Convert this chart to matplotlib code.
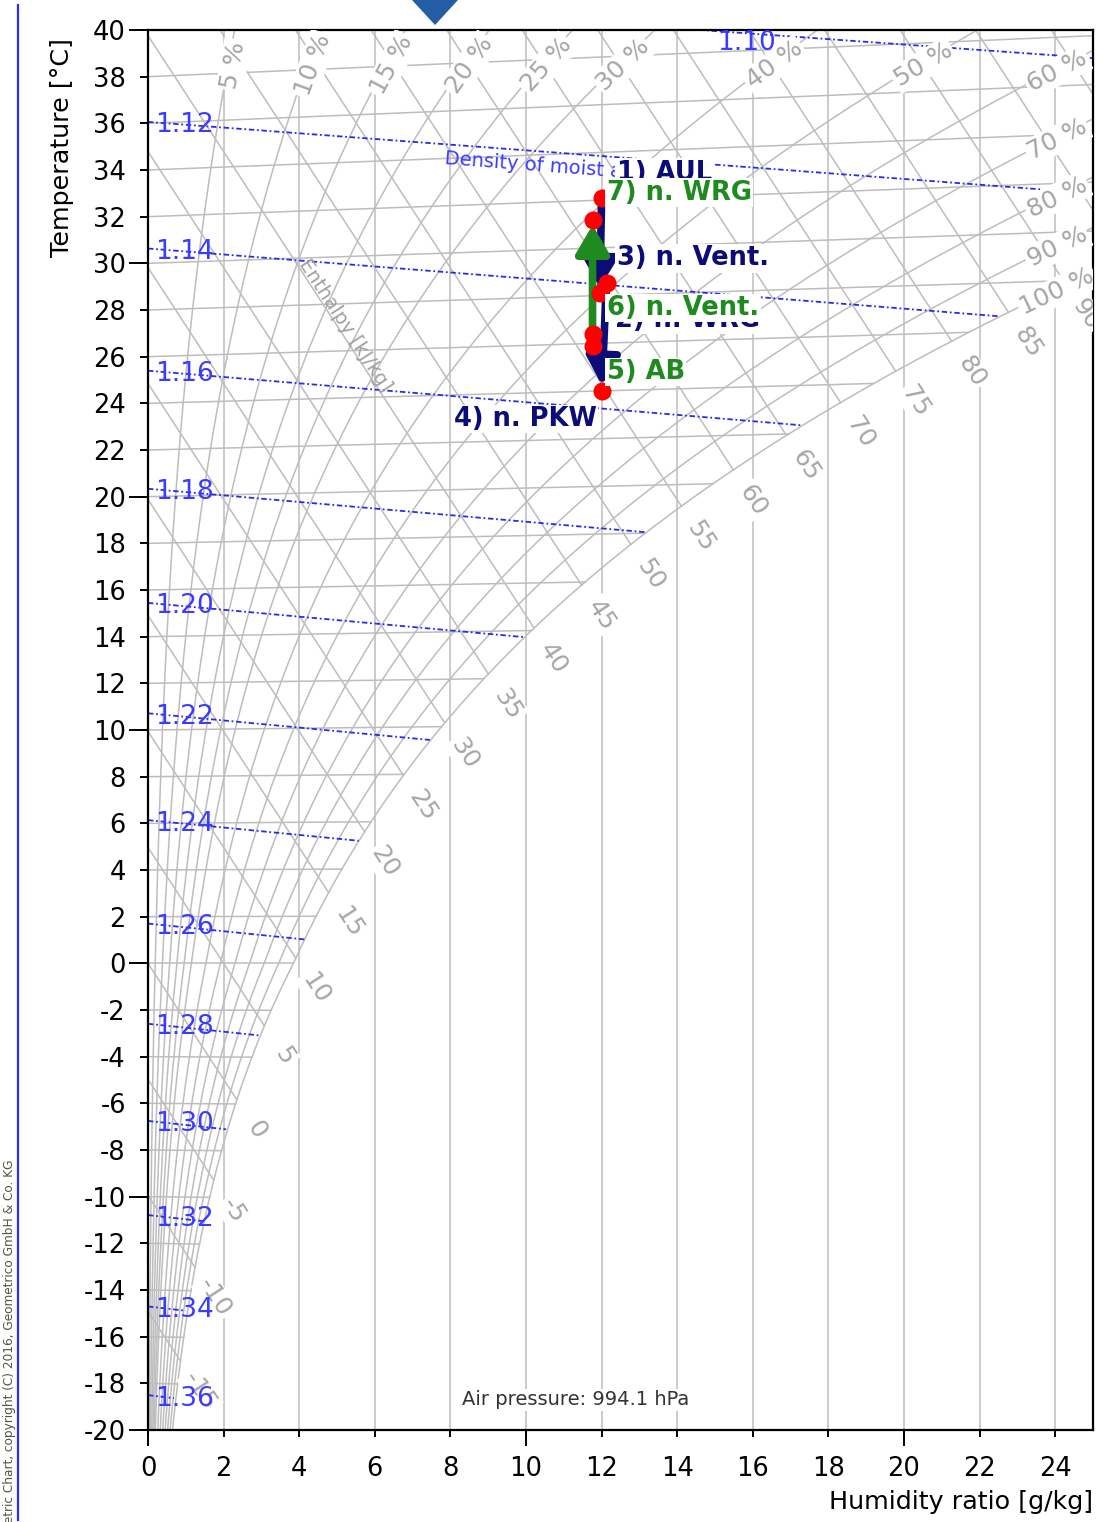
import numpy as np
import matplotlib.pyplot as plt
from matplotlib.lines import Line2D
from matplotlib.patches import Polygon

plt.rcParams['axes.unicode_minus'] = False

# Chart data
air_pressure = 994.1  # hPa
rh_levels = [5, 10, 15, 20, 25, 30, 40, 50, 60, 70, 80, 90, 100]
rh_top_labels = [5, 10, 15, 20, 25, 30, 40, 50]
rh_side_labels = [60, 70, 80, 90, 100]
isotherms = np.arange(-20, 41, 2)
enthalpies = np.arange(-20, 106, 5)
densities = [1.10, 1.12, 1.14, 1.16, 1.18, 1.20, 1.22, 1.24, 1.26, 1.28, 1.30, 1.32, 1.34, 1.36]
x_ticks = np.arange(0, 25, 2)
y_ticks = np.arange(-20, 41, 2)

# Process points
point_names = ['1) AUL', '2) n. WRG', '3) n. Vent.', '4) n. PKW', '5) AB', '6) n. Vent.', '7) n. WRG']
point_x = [12.0, 11.95, 12.13, 12.0, 11.76, 11.76, 11.76]      # g/kg
point_t = [32.1, 28.1, 28.5, 24.0, 25.9, 26.4, 31.2]           # degC
supply_path = [0, 1, 2, 3]
exhaust_path = [4, 5, 6]

navy = '#0c0c78'
green = '#1f8a1f'
grey = '#bdbdbd'
label_grey = '#a6a6a6'
dens_blue = '#2a2aee'


def psat(t):
    t = np.asarray(t, float)
    water = 6.112 * np.exp(17.62 * t / (243.12 + t))
    ice = 6.112 * np.exp(22.46 * t / (272.62 + t))
    return np.where(t >= 0, water, ice)


def hum_ratio(t, rh):
    pv = rh / 100.0 * psat(t)
    return 622.0 * pv / (air_pressure - pv)


def chart_y(t, x):
    # Mollier coordinate: equals temperature at x = 0
    return np.asarray(t) * (1.006 + 0.00186 * np.asarray(x)) / 1.006


fig = plt.figure(figsize=(11.2, 15.22), dpi=100)
ax = fig.add_axes([148 / 1120, 92 / 1522, 945 / 1120, 1400 / 1522])
ax.set_xlim(0, 25)
ax.set_ylim(-20, 40)


def disp_angle(x0, y0, x1, y1):
    p0 = ax.transData.transform((x0, y0))
    p1 = ax.transData.transform((x1, y1))
    return np.degrees(np.arctan2(p1[1] - p0[1], p1[0] - p0[0]))


# saturation curve
t_grid = np.linspace(-25, 45, 2801)
x_sat = hum_ratio(t_grid, 100)
y_sat = chart_y(t_grid, x_sat)
h_sat = 1.006 * y_sat + 2.501 * x_sat

# vertical lines of humidity ratio
ax.vlines(x_ticks[1:], -20, 40, color=grey, lw=1.1, zorder=1)

# isotherms
for t in isotherms:
    xe = min(float(hum_ratio(t, 100)), 25.0)
    ax.plot([0, xe], [t, chart_y(t, xe)], color=grey, lw=1.1, zorder=1)

# relative humidity curves
t_rh = np.linspace(-25, 45, 700)
for rh in rh_levels:
    xr = hum_ratio(t_rh, rh)
    ax.plot(xr, chart_y(t_rh, xr), color=grey, lw=1.1, zorder=1)

lab_box = dict(boxstyle='square,pad=0.08', fc='white', ec='none')
for rh in rh_levels:
    xr = hum_ratio(t_rh, rh)
    yr = chart_y(t_rh, xr)
    if rh in rh_top_labels:
        tl = np.interp(38.5, yr, t_rh)
    else:
        tl = np.interp(23.9, xr, t_rh)
    xl = float(hum_ratio(tl, rh))
    x2 = float(hum_ratio(tl + 0.3, rh))
    x1 = float(hum_ratio(tl - 0.3, rh))
    ang = disp_angle(x1, chart_y(tl - 0.3, x1), x2, chart_y(tl + 0.3, x2))
    ax.text(xl + 0.15, chart_y(tl, xl), f'{rh} %', rotation=ang, rotation_mode='anchor',
            ha='center', va='center', fontsize=18, color=label_grey,
            bbox=lab_box, zorder=3, clip_on=True)

# enthalpy lines
h_ang = disp_angle(0, 0, 1, -2.501 / 1.006)
for h in enthalpies:
    t_int = np.interp(h, h_sat, t_grid)
    x_int = float(hum_ratio(t_int, 100))
    xs = np.array([0, x_int])
    ax.plot(xs, (h - 2.501 * xs) / 1.006, color=grey, lw=1.1, zorder=1)
    y_int = (h - 2.501 * x_int) / 1.006
    if y_int < -20 or x_int > 25:
        continue
    p0 = ax.transData.transform((x_int, y_int))
    d = np.array([np.cos(np.radians(h_ang)), np.sin(np.radians(h_ang))])
    xl, yl = ax.transData.inverted().transform(p0 + 36 * d)
    ax.text(xl, yl, f'{h}', rotation=h_ang, rotation_mode='anchor', ha='center',
            va='center', fontsize=18, color=label_grey, bbox=lab_box,
            zorder=3, clip_on=True)

ax.text(5.2, (40.5 - 2.501 * 5.2) / 1.006, 'Enthalpy [kJ/kg]', rotation=h_ang,
        rotation_mode='anchor', ha='center', va='center', fontsize=14,
        color='#a0a0a0', zorder=3)

# density lines
xd = np.linspace(0, 25, 400)
for rho in densities:
    td = air_pressure * 100 * (1 + xd / 1000) / (287.05 * rho * (1 + 1.608 * xd / 1000)) - 273.15
    yd = chart_y(td, xd)
    keep = (xd <= hum_ratio(td, 100)) & (yd <= 40.2)
    ax.plot(xd[keep], yd[keep], color=dens_blue, lw=1.3,
            linestyle=(0, (3, 1.5, 1, 1.5)), zorder=2)
    i0 = np.argmax(yd <= 40)
    shift = 0.2 if i0 == 0 else 0.4
    ax.text(xd[i0] + shift, min(yd[i0] - 0.15, 39.45), f'{rho:.2f}', ha='left',
            va='center', fontsize=19, color='#3b3bff', zorder=3.5)

# density caption along the 1.12 line
xc = 7.85
tc = air_pressure * 100 * (1 + xc / 1000) / (287.05 * 1.12 * (1 + 1.608 * xc / 1000)) - 273.15
tc2 = air_pressure * 100 * (1 + 0.02) / (287.05 * 1.12 * (1 + 1.608 * 0.02)) - 273.15
d_ang = disp_angle(xc, chart_y(tc, xc), 20, chart_y(tc2, 20))
ax.text(xc, chart_y(tc, xc) - 0.6, 'Density of moist air [kg/m³]', rotation=d_ang,
        rotation_mode='anchor', ha='left', va='center', fontsize=14,
        color='#3b3bff', zorder=3.5)

ax.text(11.3, -18.7, 'Air pressure: 994.1 hPa', ha='center', va='center',
        fontsize=14, color='#333333', bbox=lab_box, zorder=3.5)

# process lines
py = [float(chart_y(t, x)) for t, x in zip(point_t, point_x)]


def segment(i, j, col, z):
    if abs(py[j] - py[i]) > 1.0:
        ax.annotate('', xy=(point_x[j], py[j]), xytext=(point_x[i], py[i]),
                    arrowprops=dict(arrowstyle='-|>,head_length=0.85,head_width=0.5',
                                    mutation_scale=20, lw=5.5, color=col,
                                    shrinkA=0, shrinkB=4), zorder=z)
    else:
        ax.plot([point_x[i], point_x[j]], [py[i], py[j]], color=col, lw=5.5,
                solid_capstyle='butt', zorder=z)


for a, b in zip(supply_path[:-1], supply_path[1:]):
    segment(a, b, navy, 5)
for a, b in zip(exhaust_path[:-1], exhaust_path[1:]):
    segment(a, b, green, 6)

ax.plot(point_x, py, 'o', color='#ff0000', ms=13, mec='none', zorder=7)

label_offsets = [(15, 25), (15, -27), (10, 25), (-5, -28), (14, -26), (14, 26), (14, 27)]
label_align = ['left', 'left', 'left', 'right', 'left', 'left', 'left']
label_colors = [navy, navy, navy, navy, green, green, green]
label_z = [8, 8, 8, 8, 8, 9, 9]
for name, x, y, off, ha, col, z in zip(point_names, point_x, py, label_offsets,
                                       label_align, label_colors, label_z):
    ax.annotate(name, (x, y), xytext=off, textcoords='offset pixels', ha=ha,
                va='center', fontsize=18.5, fontweight='bold', color=col,
                bbox=dict(boxstyle='square,pad=0.05', fc='white', ec='none'),
                zorder=z)

# axes styling
ax.set_xticks(x_ticks)
ax.set_yticks(y_ticks)
ax.set_xticks(np.arange(0, 25, 10), minor=True)
ax.set_yticks(np.arange(-20, 41, 10), minor=True)
ax.xaxis.remove_overlapping_locs = False
ax.yaxis.remove_overlapping_locs = False
ax.tick_params(which='both', width=1.4, labelsize=18.5)
ax.tick_params(axis='x', which='major', length=5, pad=14)
ax.tick_params(axis='y', which='major', length=6, pad=10)
ax.tick_params(axis='x', which='minor', length=11.5)
ax.tick_params(axis='y', which='minor', length=14)
for s in ax.spines.values():
    s.set_linewidth(1.6)

fig.text(62 / 1120, 1 - 148 / 1522, 'Temperature [°C]', rotation=90, ha='center',
         va='center', fontsize=18.3)
fig.text(1093 / 1120, 1 - 1502 / 1522, 'Humidity ratio [g/kg]', ha='right',
         va='center', fontsize=18.3)

# page decorations
fig.add_artist(Line2D([18 / 1120, 18 / 1120], [1 - 5 / 1522, 0.001],
                      transform=fig.transFigure, color='#2b2bff', lw=1.6))
fig.text(10 / 1120, 1 - 1160 / 1522,
         'Psychrometric Chart, copyright (C) 2016, Geometrico GmbH & Co. KG',
         rotation=90, ha='center', va='top', fontsize=8.7, color='#55553f')
fig.add_artist(Polygon([[412 / 1120, 1.0], [458 / 1120, 1.0], [435 / 1120, 1 - 25 / 1522]],
                       closed=True, transform=fig.transFigure, fc='#235da3', ec='none'))

fig.savefig('out.png', dpi=100)
